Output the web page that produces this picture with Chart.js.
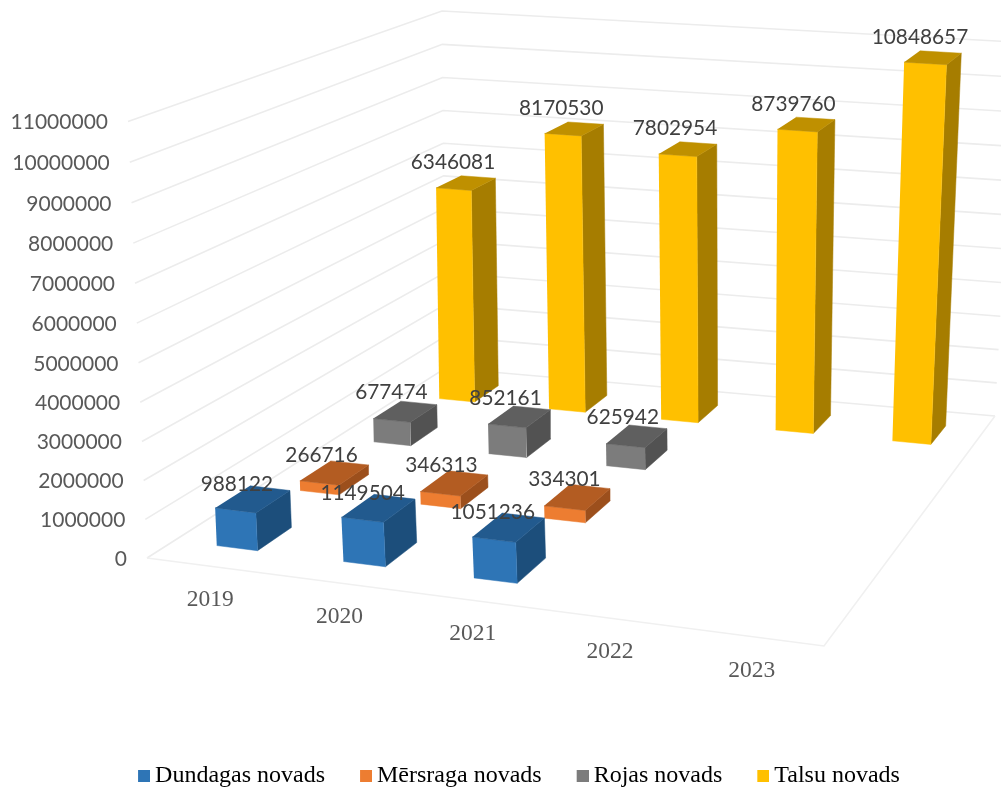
<!DOCTYPE html>
<html>
<head>
<meta charset="utf-8">
<style>
  html, body { margin: 0; padding: 0; background: #fff; }
  #wrap { width: 1001px; height: 787px; }
</style>
<script src="https://cdn.jsdelivr.net/npm/chart.js@4"></script>
</head>
<body>
<div id="wrap"><canvas id="chart"></canvas></div>
<script>
const years = ['2019', '2020', '2021', '2022', '2023'];
const seriesNames = ['Dundagas novads', 'Mērsraga novads', 'Rojas novads', 'Talsu novads'];
const dundagas = [988122, 1149504, 1051236, null, null];
const mersraga = [266716, 346313, 334301, null, null];
const rojas = [677474, 852161, 625942, null, null];
const talsu = [6346081, 8170530, 7802954, 8739760, 10848657];
const rows = [dundagas, mersraga, rojas, talsu];
const valueMax = 11000000;
const valueStep = 1000000;

// front, top, side colours per series
const faces = [
  ['#2E75B6', '#225A8E', '#1C4E7B'],
  ['#ED7D31', '#B35C22', '#9C4F1C'],
  ['#7C7C7C', '#5F5F5F', '#525252'],
  ['#FFC000', '#BF9000', '#A67D00']
];

// the 3D box seen on screen: front-left, front-right, back-right, back-left
const floorQuad = [[147, 558], [824, 646], [995, 416], [445.5, 368]];
const roofQuad = [[128, 121.5], [839, 191], [1015, 42], [442, 11]];
const barWidth = 0.325;
const barDepth = 0.4;
const yearWarp = 0.05;
const heightWarp = 0.03;
// data label offset per series
const labelDx = [-16, -13, -14, -13];
const labelDy = [-15, -18, -19, -20.5];

function quadMap(p) {
  const dx1 = p[1][0] - p[2][0], dx2 = p[3][0] - p[2][0], sx = p[0][0] - p[1][0] + p[2][0] - p[3][0];
  const dy1 = p[1][1] - p[2][1], dy2 = p[3][1] - p[2][1], sy = p[0][1] - p[1][1] + p[2][1] - p[3][1];
  const den = dx1 * dy2 - dx2 * dy1;
  const g = (sx * dy2 - dx2 * sy) / den, h = (dx1 * sy - sx * dy1) / den;
  const a = p[1][0] - p[0][0] + g * p[1][0], b = p[3][0] - p[0][0] + h * p[3][0];
  const d = p[1][1] - p[0][1] + g * p[1][1], e = p[3][1] - p[0][1] + h * p[3][1];
  return (u, v) => {
    const q = g * u + h * v + 1;
    return [(a * u + b * v + p[0][0]) / q, (d * u + e * v + p[0][1]) / q];
  };
}
const floorAt = quadMap(floorQuad);
const roofAt = quadMap(roofQuad);

// year position, series position, value -> scene point
function project(i, j, v) {
  const u0 = i / years.length;
  const u = u0 + yearWarp * u0 * (1 - u0);
  const w = j / rows.length;
  const f = floorAt(u, w);
  const r = roofAt(u, w);
  const t0 = v / valueMax;
  const t = t0 / (1 + heightWarp * (1 - t0));
  return { x: f[0] + (r[0] - f[0]) * t, y: f[1] + (r[1] - f[1]) * t };
}

const datasets = [];
function addLine(points, color, width) {
  datasets.push({ data: points, borderColor: color, borderWidth: width, fill: false });
}
function addFace(points, color) {
  datasets.push({ data: points, backgroundColor: color, borderColor: color, borderWidth: 0.5, fill: 'shape' });
}

// walls and floor
for (let v = 0; v <= valueMax; v += valueStep) {
  addLine([project(0, 0, v), project(0, rows.length, v), project(years.length, rows.length, v)], '#ececec', 1.6);
}
addLine([project(0, 0, 0), project(years.length, 0, 0), project(years.length, rows.length, 0)], '#f0f0f0', 1.6);

// back row first, left to right, so nearer bars cover the others
for (let j = rows.length - 1; j >= 0; j--) {
  rows[j].forEach((v, i) => {
    if (v === null) return;
    const u0 = i + 0.5 - barWidth / 2, u1 = i + 0.5 + barWidth / 2;
    const w0 = j + 0.5 - barDepth / 2, w1 = j + 0.5 + barDepth / 2;
    addFace([project(u1, w0, 0), project(u1, w1, 0), project(u1, w1, v), project(u1, w0, v)], faces[j][2]);
    addFace([project(u0, w0, 0), project(u1, w0, 0), project(u1, w0, v), project(u0, w0, v)], faces[j][0]);
    addFace([project(u0, w0, v), project(u1, w0, v), project(u1, w1, v), project(u0, w1, v)], faces[j][1]);
  });
}
// later datasets paint on top
datasets.forEach((d, n) => {
  d.order = datasets.length - n;
  d.xAxisID = 'sx';
  d.yAxisID = 'sy';
  d.showLine = true;
  d.pointRadius = 0;
  d.tension = 0;
  d.clip = false;
});

// hidden scene axes read in page pixels, whatever margins the layout left
const pageScale = {
  id: 'pageScale',
  afterLayout(chart) {
    const { sx, sy } = chart.scales;
    sx.min = sx.left;
    sx.max = sx.right;
    sx.configure();
    sy.min = sy.top;
    sy.max = sy.bottom;
    sy.configure();
  }
};

// axis labels follow the edges of the box instead of a straight line
const placeAxisLabels = {
  id: 'placeAxisLabels',
  beforeDraw(chart) {
    chart.scales.y.getLabelItems().forEach((item, n) => {
      const p = project(0, 0, chart.scales.y.ticks[n].value);
      item.options.translation = [p.x - 20, p.y + 1];
      item.options.textAlign = 'right';
      item.options.textBaseline = 'middle';
    });
    chart.scales.x.getLabelItems().forEach((item, n) => {
      const p = project(n + 0.5, 0, 0);
      item.options.translation = [p.x, p.y + 48];
      item.options.textAlign = 'center';
      item.options.textBaseline = 'middle';
    });
  }
};

const barLabels = {
  id: 'barLabels',
  afterDatasetsDraw(chart) {
    const ctx = chart.ctx;
    ctx.save();
    ctx.font = '20.8px Lato';
    ctx.fillStyle = '#404040';
    ctx.textAlign = 'center';
    ctx.textBaseline = 'middle';
    rows.forEach((row, j) => {
      row.forEach((v, i) => {
        if (v === null) return;
        const p = project(i + 0.5, j + 0.5, v);
        ctx.fillText(String(v), p.x + labelDx[j], p.y + labelDy[j]);
      });
    });
    ctx.restore();
  }
};

// legend marker sits closer to its text than the library's default gap
function legendMarker(color) {
  const c = document.createElement('canvas');
  c.width = 26;
  c.height = 12;
  const g = c.getContext('2d');
  g.fillStyle = color;
  g.fillRect(14, 0, 12, 12);
  return c;
}

new Chart(document.getElementById('chart'), {
  type: 'scatter',
  data: { labels: years, datasets: datasets },
  plugins: [pageScale, placeAxisLabels, barLabels],
  options: {
    responsive: true,
    maintainAspectRatio: false,
    animation: false,
    layout: { padding: { left: 30, bottom: -11 } },
    plugins: {
      tooltip: { enabled: false },
      legend: {
        position: 'bottom',
        onClick: null,
        labels: {
          usePointStyle: true,
          pointStyleWidth: 12,
          boxHeight: 12,
          padding: 28,
          color: '#595959',
          font: { family: 'Liberation Serif', size: 24 },
          generateLabels: () => seriesNames.map((name, j) => ({
            text: name,
            pointStyle: legendMarker(faces[j][0]),
            fillStyle: faces[j][0],
            strokeStyle: faces[j][0],
            lineWidth: 0,
            hidden: false,
            datasetIndex: 0
          }))
        }
      }
    },
    scales: {
      x: {
        type: 'category',
        position: 'bottom',
        grid: { display: false },
        border: { display: false },
        ticks: { mirror: true, autoSkip: false, maxRotation: 0, color: '#595959', font: { family: 'Liberation Serif', size: 23.5 } }
      },
      y: {
        type: 'linear',
        position: 'left',
        min: 0,
        max: valueMax,
        grid: { display: false },
        border: { display: false },
        ticks: { mirror: true, stepSize: valueStep, autoSkip: false, color: '#595959', font: { family: 'Lato', size: 21 }, callback: v => String(v) }
      },
      sx: { axis: 'x', type: 'linear', display: false, min: 0, max: 1001 },
      sy: { axis: 'y', type: 'linear', display: false, reverse: true, min: 0, max: 787 }
    }
  }
});
</script>
</body>
</html>
